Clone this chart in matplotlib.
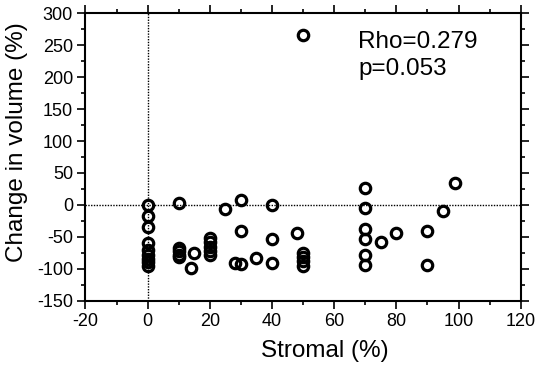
import matplotlib
matplotlib.use("Agg")
import matplotlib.pyplot as plt
from matplotlib.ticker import MultipleLocator

# data
stromal = [0, 0, 0, 0, 0, 0, 0, 0, 0,
           10, 10, 10, 10, 10,
           15, 14,
           20, 20, 20, 20, 20,
           25, 30, 30, 28, 30,
           35, 40, 40, 40, 48,
           50, 50, 50, 50, 50,
           70, 70, 70, 70, 70, 70, 75, 80,
           90, 90, 95, 99]
volume = [0, -18, -35, -60, -70, -78, -85, -90, -95,
          3, -67, -72, -78, -82,
          -75, -98,
          -52, -58, -65, -72, -78,
          -7, 8, -40, -91, -93,
          -83, 0, -54, -91, -44,
          266, -75, -82, -88, -95,
          27, -4, -38, -53, -78, -94, -58, -44,
          -41, -94, -10, 35]

rho_text = "Rho=0.279\np=0.053"


def draw_plot():
    plt.rcParams['font.family'] = ['Liberation Sans', 'DejaVu Sans']
    plt.rcParams['axes.unicode_minus'] = False
    fig = plt.figure(figsize=(5.41, 3.66), dpi=100)
    ax = fig.add_axes([0.158, 0.178, 0.8045, 0.786])

    ax.axhline(0, color='black', linestyle=(0, (1, 1)), linewidth=1, zorder=1)
    ax.axvline(0, color='black', linestyle=(0, (1, 1)), linewidth=1, zorder=1)

    ax.plot(stromal, volume, linestyle='none', marker='o', markersize=7.5,
            markerfacecolor='none', markeredgecolor='black',
            markeredgewidth=2.3, zorder=3)

    ax.set_xlim(-20, 120)
    ax.set_ylim(-150, 300)
    ax.xaxis.set_major_locator(MultipleLocator(20))
    ax.xaxis.set_minor_locator(MultipleLocator(10))
    ax.yaxis.set_major_locator(MultipleLocator(50))
    ax.yaxis.set_minor_locator(MultipleLocator(25))

    ax.tick_params(which='both', direction='out', top=True, right=True,
                   width=1.2, labelsize=13, pad=3)
    ax.tick_params(which='major', length=6)
    ax.tick_params(which='minor', length=3)
    for sp in ax.spines.values():
        sp.set_linewidth(1.5)

    ax.set_xlabel("Stromal (%)", fontsize=17.5)
    ax.set_ylabel("Change in volume (%)", fontsize=17.5)
    ax.xaxis.set_label_coords(0.55, -0.137)
    ax.yaxis.set_label_coords(-0.131, 0.553)

    ax.text(67.7, 272, rho_text, fontsize=17.5, va='top', ha='left',
            linespacing=1.3)

    fig.savefig("out.png", dpi=100)


if __name__ == '__main__':
    draw_plot()
